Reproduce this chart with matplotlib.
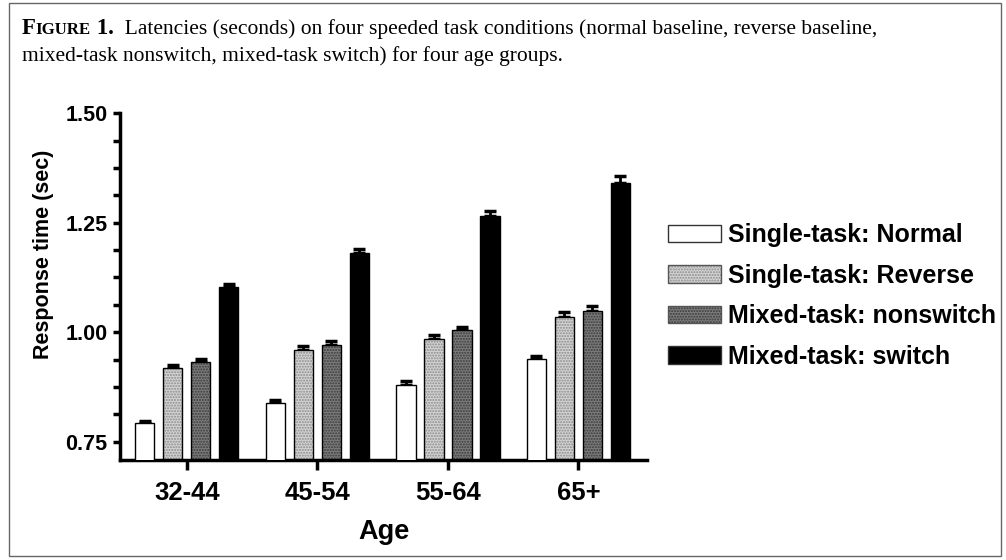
import matplotlib
matplotlib.use("Agg")
import matplotlib.pyplot as plt
import numpy as np
from matplotlib.patches import Patch, Rectangle
from matplotlib.legend_handler import HandlerTuple
from matplotlib.ticker import MultipleLocator

# ---- data ----
age_groups = ["32-44", "45-54", "55-64", "65+"]
conditions = ["Single-task: Normal", "Single-task: Reverse",
              "Mixed-task: nonswitch", "Mixed-task: switch"]
normal = [0.793, 0.839, 0.880, 0.938]
reverse = [0.918, 0.960, 0.985, 1.034]
nonswitch = [0.933, 0.971, 1.004, 1.048]
switch = [1.104, 1.182, 1.266, 1.340]
err_normal = [0.004, 0.006, 0.008, 0.008]
err_reverse = [0.006, 0.008, 0.009, 0.011]
err_nonswitch = [0.005, 0.008, 0.008, 0.012]
err_switch = [0.006, 0.009, 0.011, 0.017]

caption_l1 = "Latencies (seconds) on four speeded task conditions (normal baseline, reverse baseline,"
caption_l2 = "mixed-task nonswitch, mixed-task switch) for four age groups."

series = [normal, reverse, nonswitch, switch]
errors = [err_normal, err_reverse, err_nonswitch, err_switch]
faces = ["white", "#d4d4d4", "#7c7c7c", "black"]
hatch_cols = [None, "#8a8a8a", "#3a3a3a", None]
hatches = [None, "......", "......", None]

W, H = 1006, 560
fig = plt.figure(figsize=(W / 100, H / 100), dpi=100)
sans = ["Liberation Sans", "DejaVu Sans"]
serif = ["Liberation Serif", "DejaVu Serif"]

ax = fig.add_axes([120 / W, 1 - 460 / H, 527 / W, (460 - 113.3) / H])
x = np.arange(len(age_groups))
pitch = 0.2146
width = 0.149
handles = []
for i, (vals, errs) in enumerate(zip(series, errors)):
    pos = x + (i - 1.5) * pitch
    ax.errorbar(pos, vals, yerr=[np.zeros(len(vals)), errs], fmt="none",
                ecolor="black", elinewidth=2, capsize=4.5, capthick=2.5, zorder=1)
    if hatches[i]:
        ax.bar(pos, vals, width, color=faces[i], edgecolor=hatch_cols[i],
               hatch=hatches[i], linewidth=0, zorder=2)
        ax.bar(pos, vals, width, fill=False, edgecolor="black", linewidth=1, zorder=3)
        h = (Patch(facecolor=faces[i], edgecolor=hatch_cols[i], hatch=hatches[i], linewidth=0),
             Patch(fill=False, edgecolor="#555555", linewidth=1))
    else:
        ax.bar(pos, vals, width, color=faces[i], edgecolor="black", linewidth=1, zorder=3)
        h = Patch(facecolor=faces[i], edgecolor="#333333", linewidth=1)
    handles.append(h)

ax.set_ylim(0.708, 1.50)
ax.set_xlim(-0.511, 3.525)
ax.yaxis.set_minor_locator(MultipleLocator(0.0625))
ax.set_yticks([0.75, 1.00, 1.25, 1.50])
ax.set_yticklabels(["0.75", "1.00", "1.25", "1.50"])
ax.set_xticks(x)
ax.set_xticklabels(age_groups)
for sp in ["top", "right"]:
    ax.spines[sp].set_visible(False)
for sp in ["left", "bottom"]:
    ax.spines[sp].set_linewidth(2.5)
ax.tick_params(axis="y", which="major", direction="out", length=5, width=2.5, pad=4)
ax.tick_params(axis="y", which="minor", direction="out", length=5, width=2.5)
ax.tick_params(axis="x", which="major", direction="out", length=7, width=2.5, pad=8)
for lab in ax.get_yticklabels():
    lab.set_fontfamily(sans); lab.set_fontweight("bold"); lab.set_fontsize(15.5)
for lab in ax.get_xticklabels():
    lab.set_fontfamily(sans); lab.set_fontweight("bold"); lab.set_fontsize(18.5)
ax.set_xlabel("Age", fontfamily=sans, fontweight="bold", fontsize=19.5, labelpad=10)
ax.set_ylabel("Response time (sec)", fontfamily=sans, fontweight="bold", fontsize=15.5)
ax.yaxis.set_label_coords(-0.125, 0.594)

leg = fig.legend(handles, conditions, loc="center left",
                 bbox_to_anchor=(668 / W, 1 - 296 / H), frameon=False,
                 borderpad=0, borderaxespad=0, handlelength=2.1, handleheight=0.68,
                 handletextpad=0.3, labelspacing=0.66,
                 handler_map={tuple: HandlerTuple(ndivide=1, pad=0)},
                 prop={"family": sans, "weight": "bold", "size": 18})

# frame around the whole figure
fig.add_artist(Rectangle((9 / W, 1 - 556 / H), (1001 - 9) / W, (556 - 3) / H,
                         transform=fig.transFigure, fill=False,
                         edgecolor="#666666", linewidth=1))

# caption with small caps "FIGURE"
renderer = fig.canvas.get_renderer()
fs = 15.5
cx = 22
base1 = H - 34
def put(txt, xpx, ypx, size, weight="normal"):
    t = fig.text(xpx / W, ypx / H, txt, fontsize=size, fontfamily=serif,
                 fontweight=weight, va="baseline", ha="left")
    bb = t.get_window_extent(renderer)
    return bb.x1
xx = put("F", cx, base1, fs + 1, "bold")
xx = put("IGURE", xx, base1, fs * 0.78, "bold")
xx = put(" 1.", xx, base1, fs + 1, "bold")
xx = put("  " + caption_l1, xx, base1, fs)
put(caption_l2, cx, H - 61, fs)

fig.savefig("out.png", dpi=100)
